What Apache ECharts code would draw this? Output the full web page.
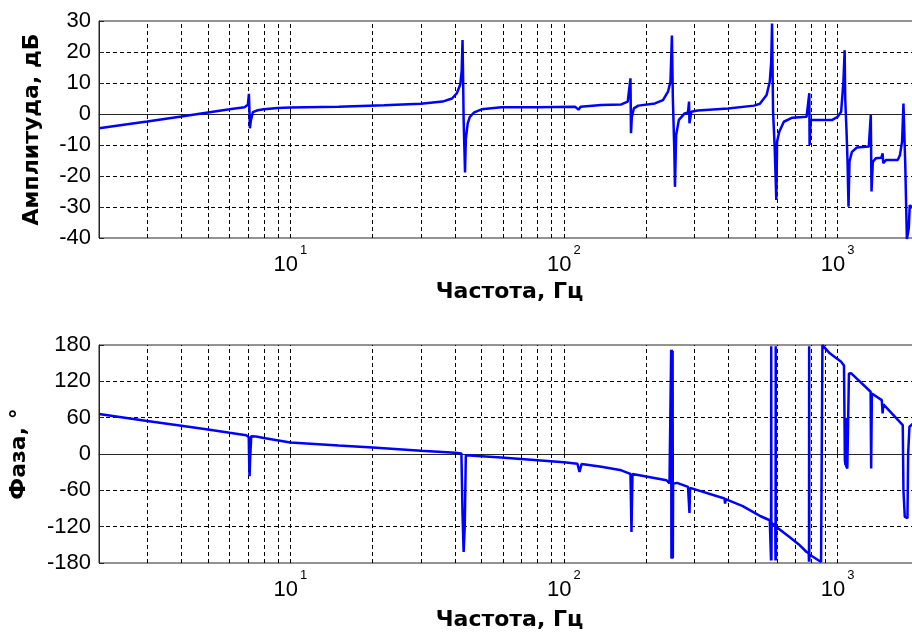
<!DOCTYPE html>
<html>
<head>
<meta charset="utf-8">
<script src="https://cdn.jsdelivr.net/npm/echarts@6/dist/echarts.min.js"></script>
<style>
html,body{margin:0;padding:0;background:#fff;}
#chart{width:912px;height:635px;}
</style>
</head>
<body>
<div id="chart"></div>
<script>
// ---- Amplitude (dB) vs frequency (Hz) ----
const ampFreq = [2, 2.5, 3, 4, 5, 6, 6.8, 7.0, 7.06, 7.09, 7.12, 7.18, 7.3, 7.6, 8, 9, 10, 15, 22, 30, 36, 39, 40.6, 41.8, 42.3, 42.6, 42.8, 43.0, 43.3, 43.5, 43.8, 44.5, 45.3, 47, 50, 59, 80, 110, 113, 115, 137, 162, 171, 175, 175.8, 177, 180, 187, 215, 230, 240, 245, 248, 250, 253, 254.5, 257, 263, 276, 284, 286.5, 287.5, 292, 308, 398, 495, 520, 550, 565, 572, 576, 581, 589, 597, 601, 612, 636, 683, 770, 783, 788, 790, 798, 957, 1000, 1030, 1050, 1061, 1066, 1078, 1087, 1096, 1105, 1128, 1176, 1300, 1322, 1330, 1345, 1379, 1445, 1460, 1468, 1505, 1660, 1690, 1720, 1740, 1767, 1791, 1820, 1835, 1860, 1900, 2000];
const ampDb   = [-4.6, -3.4, -2.4, -0.8, 0.5, 1.5, 2.2, 3.0, 6.5, 1.5, -4.6, -2.0, 0.6, 1.2, 1.5, 1.9, 2.1, 2.3, 2.8, 3.3, 4.0, 5.0, 6.7, 9.5, 14, 23.9, 12, -2, -12, -18.9, -8, -3, -0.9, 0.5, 1.5, 2.2, 2.2, 2.3, 1.4, 2.3, 2.9, 3.1, 4.0, 11.5, -6.2, -1.0, 1.8, 2.7, 3.4, 4.5, 7.2, 10.4, 25.3, 5, -11, -23.5, -6.8, -1.9, 0.2, 0.5, 4, -3, 0.7, 1.1, 1.8, 2.7, 3.3, 6.1, 10.4, 16.9, 29.2, 0.7, -11, -27.7, -8.9, -5.7, -2.5, -1.2, -0.9, -0.3, 6.7, -10, -1.9, -1.9, -0.9, 0.7, 10.4, 20.6, 5, -5.7, -15.4, -29.9, -15.4, -12.2, -10.8, -10.5, -0.3, -25, -15.4, -14.3, -14.1, -12.7, -15.9, -14.8, -14.8, -13.2, -8.9, 3.4, -16.5, -40.5, -36.8, -29.4, -30.3, -29, -28];

// ---- Phase (deg) vs frequency (Hz) ----
const phFreq = [2, 3, 4, 5, 6, 6.9, 7.05, 7.08, 7.1, 7.13, 7.2, 7.5, 8, 10, 15, 20, 30, 40, 42.2, 42.6, 43.0, 43.4, 43.8, 44.5, 59, 100, 112, 114, 116, 137, 162, 171, 175, 176.5, 178, 181, 237, 243, 246, 246.5, 247, 247.5, 248, 248.5, 249, 249.5, 250, 250.5, 259, 284, 286.5, 287.5, 289, 292, 386, 388, 390, 398, 450, 505, 523, 565, 570, 571, 572, 573, 574, 592, 593, 594, 595, 596, 606, 667, 720, 770, 784, 786, 787, 788, 789, 798, 870, 875, 880, 890, 936, 1030, 1055, 1061, 1063, 1068, 1071, 1075, 1085, 1100, 1122, 1140, 1320, 1326, 1334, 1345, 1450, 1460, 1470, 1480, 1730, 1740, 1760, 1800, 1810, 1830, 1890, 2000];
const phDeg  = [65.9, 54.5, 46.5, 40.3, 35, 31, 28, -20, -36.6, -10, 29.5, 29, 26.5, 19, 14, 10.8, 5.5, 1.9, 1, -100, -161.8, -120, -2, 0, -5.7, -13.5, -16, -29.5, -16.5, -21.2, -27, -31.2, -33, -128.8, -33, -32.2, -43.3, -48.7, -50, 172, -172, 172, -173, 171, -172, 170, -172, -49, -47.7, -54.3, -56, -97.3, -56, -54.3, -73.5, -81.8, -74.5, -76.3, -86, -99, -102.8, -109.4, -112, -176, 178, -176, -114, -119, -176, 178, -176, -120, -120.5, -137, -149, -161.8, -164, -178, 178, -178, -166, -167.3, -178.4, -179.5, 179.8, 178.3, 166.3, 152.4, 146, 145, -10, -18.5, 60, -20, -24, 133, 133.2, 133, 102.8, -24, 100, 100, 89, 67, 82, 80.8, 47.7, -60, -104, -106, 0, 45, 50.5, 55];

// ---- axis ticks / grid ----
const gridFreqs = [3, 4, 5, 6, 7, 8, 9, 10, 20, 30, 40, 50, 60, 70, 80, 90, 100, 200, 300, 400, 500, 600, 700, 800, 900, 1000];
const decadeValues = [10, 100, 1000];
const decadeExps = ['1', '2', '3'];

const FONT = 'Liberation Sans';
const TITLE_FONT = 'DejaVu Sans';
const chart = echarts.init(document.getElementById('chart'), null, {renderer: 'canvas'});

function xLabel(v) {
  const k = decadeValues.findIndex(t => Math.abs(t - v) / t < 1e-6);
  return k < 0 ? '' : '{b|10}{s|' + decadeExps[k] + '}';
}

function makeX(gridIndex) {
  return {
    type: 'log', logBase: 10, gridIndex: gridIndex, min: 2, max: 2000,
    name: 'Частота, Гц', nameLocation: 'middle', nameGap: gridIndex === 0 ? 43 : 46,
    nameTextStyle: {fontFamily: TITLE_FONT, fontWeight: 'bold', fontSize: 22, color: '#000', verticalAlign: 'top'},
    axisLine: {show: true, lineStyle: {color: '#262626', width: 1}},
    axisTick: {show: true, inside: true, length: 5, lineStyle: {color: '#262626'}},
    splitLine: {show: false},
    axisLabel: {
      margin: 6, formatter: xLabel, color: '#000',
      rich: {
        b: {fontFamily: FONT, fontSize: 22, color: '#000'},
        s: {fontFamily: FONT, fontSize: 13, color: '#000', padding: [0, 0, 28, 2]}
      }
    }
  };
}

function makeY(gridIndex, min, max, interval, name, gap) {
  return {
    type: 'value', gridIndex: gridIndex, min: min, max: max, interval: interval,
    name: name, nameLocation: 'middle', nameRotate: 90, nameGap: gap,
    nameTextStyle: {fontFamily: TITLE_FONT, fontWeight: 'bold', fontSize: 22, color: '#000'},
    axisLine: {show: true, lineStyle: {color: '#262626', width: 1}},
    axisTick: {show: true, inside: true, length: 5, lineStyle: {color: '#262626'}},
    axisLabel: {fontFamily: FONT, fontSize: 22, color: '#000', margin: 8},
    splitLine: {show: true, showMinLine: false, showMaxLine: false, lineStyle: {color: '#000', type: [4, 3], width: 1}}
  };
}

function gridSeries(i) {
  return {
    type: 'line', xAxisIndex: i, yAxisIndex: i, data: [], z: 1, silent: true,
    markLine: {
      silent: true, symbol: ['none', 'none'], z: 1, animation: false,
      label: {show: false},
      lineStyle: {color: '#000', type: [4, 3], width: 1},
      emphasis: {disabled: true},
      data: gridFreqs.map(v => ({xAxis: v}))
    }
  };
}

const option = {
  animation: false,
  backgroundColor: '#fff',
  grid: [
    {left: 99, top: 21, width: 821, height: 217, outerBoundsMode: 'none', containLabel: false, show: true, borderColor: '#262626', borderWidth: 1, backgroundColor: '#fff'},
    {left: 99, top: 345, width: 821, height: 218, outerBoundsMode: 'none', containLabel: false, show: true, borderColor: '#262626', borderWidth: 1, backgroundColor: '#fff'}
  ],
  xAxis: [makeX(0), makeX(1)],
  yAxis: [
    makeY(0, -40, 30, 10, 'Амплитуда, дБ', 56),
    makeY(1, -180, 180, 60, 'Фаза, °', 69)
  ],
  series: [
    gridSeries(0),
    gridSeries(1),
    {
      type: 'line', xAxisIndex: 0, yAxisIndex: 0, z: 3, showSymbol: false, symbol: 'none',
      lineStyle: {color: '#0000ff', width: 2.5}, clip: true,
      data: ampFreq.map((f, i) => [f, ampDb[i]])
    },
    {
      type: 'line', xAxisIndex: 1, yAxisIndex: 1, z: 3, showSymbol: false, symbol: 'none',
      lineStyle: {color: '#0000ff', width: 2.5}, clip: true,
      data: phFreq.map((f, i) => [f, phDeg[i]])
    }
  ]
};
chart.setOption(option);
</script>
</body>
</html>
